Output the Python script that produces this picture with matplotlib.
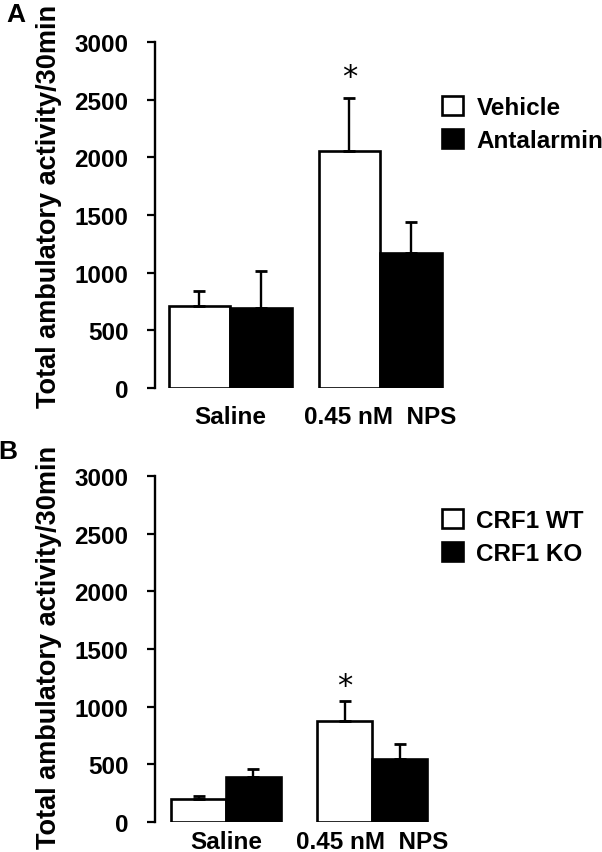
import matplotlib
matplotlib.use('Agg')
import matplotlib.pyplot as plt
from matplotlib.patches import Patch

plt.rcParams['font.family'] = ['Liberation Sans', 'DejaVu Sans']
plt.rcParams['font.weight'] = 'bold'

# data
groups = ['Saline', '0.45 nM  NPS']

vehicle_mean = [711, 2055]
vehicle_sem = [130, 460]
antalarmin_mean = [694, 1171]
antalarmin_sem = [321, 269]

wt_mean = [200, 876]
wt_sem = [25, 174]
ko_mean = [390, 546]
ko_sem = [70, 130]

yticks = [0, 500, 1000, 1500, 2000, 2500, 3000]
ylabel = 'Total ambulatory activity/30min'

fig = plt.figure(figsize=(6.02, 8.53), dpi=100)
W, H = 602.0, 853.0
fs = 17.5


def panel(rect, m1, e1, m2, e2, names, width, xlim, star_y, xpad, leg_anchor):
    ax = fig.add_axes(rect)
    x = list(range(len(groups)))
    x1 = [i - width / 2 for i in x]
    x2 = [i + width / 2 for i in x]
    ax.bar(x1, m1, width, color='white', edgecolor='black', linewidth=1.9, zorder=2)
    ax.bar(x2, m2, width, color='black', edgecolor='black', linewidth=1.9, zorder=2)
    ax.errorbar(x1, m1, yerr=[[0] * len(e1), e1], fmt='none', ecolor='black',
                elinewidth=1.7, capsize=4.5, capthick=2, zorder=3)
    ax.errorbar(x2, m2, yerr=[[0] * len(e2), e2], fmt='none', ecolor='black',
                elinewidth=1.7, capsize=4.5, capthick=2, zorder=3)
    ax.text(x1[1], star_y, '*', ha='center', va='center', fontsize=22,
            fontweight='normal', family='DejaVu Sans')

    ax.set_xlim(*xlim)
    ax.set_ylim(0, 3000)
    ax.set_yticks(yticks)
    ax.set_xticks(x)
    ax.set_xticklabels(groups, fontsize=fs, fontweight='bold')
    ax.tick_params(axis='x', length=0, pad=xpad)
    ax.tick_params(axis='y', direction='out', length=6, width=1.6,
                   labelsize=fs, pad=13)
    for lab in ax.get_yticklabels():
        lab.set_fontweight('bold')
    for s in ['top', 'right', 'bottom']:
        ax.spines[s].set_visible(False)
    ax.spines['left'].set_linewidth(1.7)

    handles = [Patch(facecolor='white', edgecolor='black', linewidth=1.9),
               Patch(facecolor='black', edgecolor='black', linewidth=1.9)]
    ax.legend(handles, names, loc='upper left', bbox_to_anchor=leg_anchor,
              frameon=False, fontsize=fs, handlelength=0.86, handleheight=0.82,
              handletextpad=0.55, labelspacing=0.42, borderpad=0, borderaxespad=0)
    return ax


left = 155 / W
wid = 435 / W
axA = panel([left, 1 - 389 / H, wid, 346 / H], vehicle_mean, vehicle_sem,
            antalarmin_mean, antalarmin_sem, ['Vehicle', 'Antalarmin'],
            0.41, (-0.5, 2.4), 2700, 12, (0.66, 0.845))
axB = panel([left, 1 - 823 / H, wid, 346 / H], wt_mean, wt_sem,
            ko_mean, ko_sem, ['CRF1 WT', 'CRF1 KO'],
            0.375, (-0.486, 2.49), 1180, 6, (0.66, 0.905))

fig.text(49 / W, 1 - 206 / H, ylabel, rotation=90, ha='center', va='center',
         fontsize=19.5, fontweight='bold')
fig.text(49 / W, 1 - 647 / H, ylabel, rotation=90, ha='center', va='center',
         fontsize=19.5, fontweight='bold')
fig.text(16 / W, 1 - 15 / H, 'A', ha='center', va='center', fontsize=19, fontweight='bold')
fig.text(8 / W, 1 - 452 / H, 'B', ha='center', va='center', fontsize=19, fontweight='bold')

fig.savefig('out.png', dpi=100)
